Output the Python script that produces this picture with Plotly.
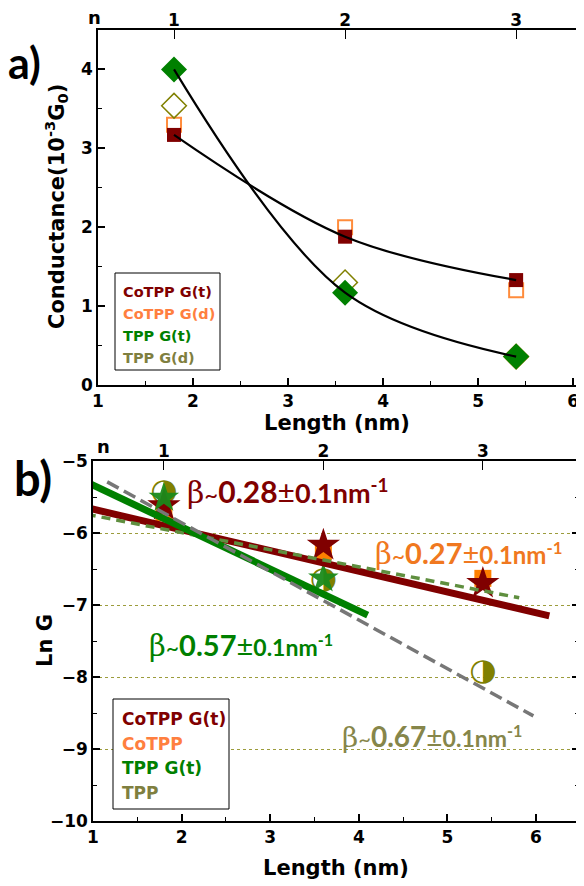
import plotly.graph_objects as go

# ---------------- data: panel a ----------------
length_a = [1.8, 3.6, 5.4]
cotpp_gt_a = [3.17, 1.88, 1.33]
cotpp_gd_a = [3.30, 2.00, 1.20]
tpp_gt_a = [4.00, 1.17, 0.36]
tpp_gd_a = [3.54, 1.30, 0.36]
n_ticks = [1.8, 3.6, 5.4]
n_labels = ["1", "2", "3"]

# ---------------- data: panel b ----------------
length_b = [1.8, 3.6, 5.4]
cotpp_gt_b = [-5.62, -6.17, -6.70]
cotpp_b = [-5.72, -6.26, -6.63]
tpp_gt_b = [-5.51, -6.63]
tpp_gt_len = [1.8, 3.6]
tpp_b = [-5.44, -6.66, -7.93]

# fitted lines (end points)
fit_cotpp_gt_x = [0.9, 6.15]
fit_cotpp_gt_y = [-5.64, -7.15]
fit_cotpp_x = [0.93, 5.81]
fit_cotpp_y = [-5.74, -6.90]
fit_tpp_gt_x = [0.94, 4.10]
fit_tpp_gt_y = [-5.30, -7.14]
fit_tpp_x = [1.16, 5.97]
fit_tpp_y = [-5.29, -8.54]

# page body has an 8px margin: figure is drawn at (8, 8)
OFF = 8
W, H = 584 - OFF, 886 - OFF
DARKRED = "#800000"
ORANGE_A = "#FF8C3C"
ORANGE_B = "#FF8000"
GREEN = "#008000"
OLIVE = "#808000"
OLIVE_TXT = "#7F7F3F"
FONT = "DejaVu Sans, sans-serif"


def px(x):
    return (x - OFF) / W


def py(y):
    return 1 - (y - OFF) / H


fig = go.Figure()

# ---- panel a markers ----
fig.add_trace(go.Scatter(x=length_a, y=cotpp_gd_a, mode="markers", xaxis="x", yaxis="y",
                         marker=dict(symbol="square-open", size=14, color=ORANGE_A, line=dict(width=2))))
fig.add_trace(go.Scatter(x=length_a, y=cotpp_gt_a, mode="markers", xaxis="x", yaxis="y",
                         marker=dict(symbol="square", size=14, color=DARKRED)))
fig.add_trace(go.Scatter(x=length_a, y=tpp_gd_a, mode="markers", xaxis="x", yaxis="y",
                         marker=dict(symbol="diamond-open", size=19, color=OLIVE, line=dict(width=1.5))))
fig.add_trace(go.Scatter(x=length_a, y=tpp_gt_a, mode="markers", xaxis="x", yaxis="y",
                         marker=dict(symbol="diamond", size=20, color=GREEN)))
# fit curves through G(t)
fig.add_trace(go.Scatter(x=length_a, y=cotpp_gt_a, mode="lines", xaxis="x", yaxis="y",
                         line=dict(color="black", width=2.2, shape="spline", smoothing=1.0)))
fig.add_trace(go.Scatter(x=length_a, y=tpp_gt_a, mode="lines", xaxis="x", yaxis="y",
                         line=dict(color="black", width=2.2, shape="spline", smoothing=1.0)))
# invisible trace for top axis
fig.add_trace(go.Scatter(x=n_ticks, y=tpp_gt_a, mode="markers", xaxis="x2", yaxis="y",
                         marker=dict(opacity=0), hoverinfo="skip"))

# ---- panel b markers ----
fig.add_trace(go.Scatter(x=length_b, y=cotpp_b, mode="markers", xaxis="x3", yaxis="y2",
                         marker=dict(symbol="square", size=17, color=ORANGE_B)))
fig.add_trace(go.Scatter(x=length_b, y=tpp_b, mode="text", xaxis="x3", yaxis="y2",
                         text=["\u25D1"] * len(tpp_b), textposition="middle center",
                         textfont=dict(family="DejaVu Sans", size=31, color=OLIVE)))
fig.add_trace(go.Scatter(x=length_b, y=cotpp_gt_b, mode="markers", xaxis="x3", yaxis="y2",
                         marker=dict(symbol="star", size=25, color=DARKRED)))
fig.add_trace(go.Scatter(x=tpp_gt_len, y=tpp_gt_b, mode="markers", xaxis="x3", yaxis="y2",
                         marker=dict(symbol="star", size=23, color="#1a8a1a", opacity=0.95)))
# fit lines
fig.add_trace(go.Scatter(x=fit_cotpp_gt_x, y=fit_cotpp_gt_y, mode="lines", xaxis="x3", yaxis="y2",
                         line=dict(color=DARKRED, width=7)))
fig.add_trace(go.Scatter(x=fit_cotpp_x, y=fit_cotpp_y, mode="lines", xaxis="x3", yaxis="y2",
                         line=dict(color="#5F8F3F", width=3.5, dash="9px,6px")))
fig.add_trace(go.Scatter(x=fit_tpp_gt_x, y=fit_tpp_gt_y, mode="lines", xaxis="x3", yaxis="y2",
                         line=dict(color=GREEN, width=7)))
fig.add_trace(go.Scatter(x=fit_tpp_x, y=fit_tpp_y, mode="lines", xaxis="x3", yaxis="y2",
                         line=dict(color="#777777", width=3.5, dash="13px,6px")))
fig.add_trace(go.Scatter(x=n_ticks, y=tpp_b, mode="markers", xaxis="x4", yaxis="y2",
                         marker=dict(opacity=0), hoverinfo="skip"))

tickfont = dict(family=FONT, size=17, color="black", weight="bold")
titlefont = dict(family=FONT, size=21, color="black", weight="bold")
base = dict(showline=True, linecolor="black", linewidth=1.5, ticks="inside", ticklen=7,
            tickwidth=1.5, tickcolor="black", tickfont=tickfont, showgrid=False, zeroline=False,
            automargin=False)
minor = dict(ticks="inside", ticklen=4, tickwidth=1.2, tickcolor="black", dtick=0.5, showgrid=False)
top = dict(ticks="inside", ticklen=9, tickwidth=1.2, tickcolor="black", tickfont=tickfont,
           showline=False, showgrid=False, zeroline=False, automargin=False)

fig.update_layout(
    width=W, height=H, margin=dict(l=0, r=0, t=0, b=0, autoexpand=False),
    paper_bgcolor="white", plot_bgcolor="white", showlegend=False,
    xaxis=dict(**base, domain=[px(98), px(576)], range=[1, 6.03], anchor="y", dtick=1,
               mirror=True, minor=minor,
               title=dict(text="<b>Length (nm)</b>", font=titlefont, standoff=5)),
    xaxis2=dict(**top, overlaying="x", side="top", anchor="y", range=[1, 6.03], tickvals=n_ticks,
                ticktext=n_labels),
    yaxis=dict(**base, domain=[py(385), py(30)], range=[0, 4.5], anchor="x", dtick=1,
               mirror=True, minor=minor),
    xaxis3=dict(**base, domain=[px(93), px(579)], range=[1, 6.485], anchor="y2", dtick=1,
                mirror=True, minor=minor,
                title=dict(text="<b>Length (nm)</b>", font=titlefont, standoff=14)),
    xaxis4=dict(**top, overlaying="x3", side="top", anchor="y2", range=[1, 6.485], tickvals=n_ticks,
                ticktext=n_labels),
    yaxis2=dict(showline=True, linecolor="black", linewidth=1.5, ticks="inside", ticklen=7,
                tickwidth=1.5, tickcolor="black", tickfont=tickfont, zeroline=False, automargin=False,
                domain=[py(821), py(461)], range=[-10, -5], anchor="x3", dtick=1,
                mirror="ticks", showgrid=True, gridcolor="#9C9C3C", gridwidth=1, griddash="dot",
                minor=minor),
)

ann = []
# y-axis titles
ann.append(dict(text="<b>Conductance(10<sup>-3</sup>G<sub>0</sub>)</b>", x=px(56), y=py(207),
                xref="paper", yref="paper", xanchor="center", yanchor="middle", textangle=-90,
                showarrow=False, font=titlefont))
ann.append(dict(text="<b>Ln G</b>", x=px(45), y=py(641),
                xref="paper", yref="paper", xanchor="center", yanchor="middle", textangle=-90,
                showarrow=False, font=titlefont))
# panel labels
ann.append(dict(text="<b>a)</b>", x=px(6), y=py(62), xref="paper", yref="paper", xanchor="left",
                yanchor="middle", showarrow=False, font=dict(family="Lato", size=43, color="black")))
ann.append(dict(text="<b>b)</b>", x=px(12), y=py(478), xref="paper", yref="paper", xanchor="left",
                yanchor="middle", showarrow=False, font=dict(family="Lato", size=47, color="black")))
# "n" labels for top axes
ann.append(dict(text="<b>n</b>", x=px(94), y=py(17), xref="paper", yref="paper", showarrow=False,
                xanchor="center", yanchor="middle", font=dict(family=FONT, size=18, color="black")))
ann.append(dict(text="<b>n</b>", x=px(103), y=py(446), xref="paper", yref="paper", showarrow=False,
                xanchor="center", yanchor="middle", font=dict(family=FONT, size=18, color="black")))

# legend panel a
leg_a = [("CoTPP G(t)", DARKRED), ("CoTPP G(d)", "#FF7F3F"), ("TPP G(t)", GREEN), ("TPP G(d)", OLIVE_TXT)]
for i, (t, c) in enumerate(leg_a):
    ann.append(dict(text="<b>%s</b>" % t, x=px(121), y=py(292 + 22 * i), xref="paper", yref="paper",
                    xanchor="left", yanchor="middle", showarrow=False,
                    font=dict(family=FONT, size=14.5, color=c)))
leg_b = [("CoTPP G(t)", DARKRED), ("CoTPP", "#FF7F3F"), ("TPP G(t)", GREEN), ("TPP", OLIVE_TXT)]
for i, (t, c) in enumerate(leg_b):
    ann.append(dict(text="<b>%s</b>" % t, x=px(120), y=py(719 + 24.7 * i), xref="paper", yref="paper",
                    xanchor="left", yanchor="middle", showarrow=False,
                    font=dict(family=FONT, size=17, color=c)))


def beta(val, big, small):
    return ("<span style='font-family:DejaVu Serif;font-size:%dpx'>\u03b2</span>"
            "<span style='font-size:%dpx'>~</span>"
            "<b>%s</b>"
            "<span style='font-size:%dpx'>\u00b1</span>"
            "<span style='font-size:%dpx'><b>0.1nm<sup>-1</sup></b></span>") % (big, int(big * 0.8), val, big, small)


betas = [("0.28", 30, 27, DARKRED, 2.04, -5.43),
         ("0.27", 29, 24, "#F07820", 4.16, -6.28),
         ("0.57", 29, 23, GREEN, 1.61, -7.56),
         ("0.67", 28, 23, "#86864A", 3.79, -8.83)]
for v, big, small, col, xx, yy in betas:
    ann.append(dict(text=beta(v, big, small), x=xx, y=yy, xref="x3", yref="y2",
                    xanchor="left", yanchor="middle", showarrow=False,
                    font=dict(family="Lato", size=big, color=col)))

fig.update_layout(annotations=ann)

shapes = [
    dict(type="rect", xref="paper", yref="paper", x0=px(115), x1=px(220), y0=py(370), y1=py(273),
         line=dict(color="black", width=1), fillcolor="white", layer="above"),
    dict(type="rect", xref="paper", yref="paper", x0=px(113), x1=px(229), y0=py(809), y1=py(699),
         line=dict(color="black", width=1), fillcolor="white", layer="above"),
]
fig.update_layout(shapes=shapes)

fig.write_html("out.html")
